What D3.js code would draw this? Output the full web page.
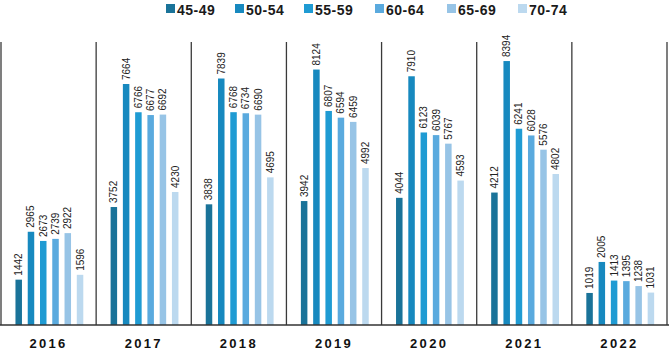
<!DOCTYPE html>
<html>
<head>
<meta charset="utf-8">
<script src="https://cdn.jsdelivr.net/npm/d3@7"></script>
<style>
  html, body { margin: 0; padding: 0; background: #fff; }
  svg { display: block; font-family: "Liberation Sans", Arial, sans-serif; }
</style>
</head>
<body>
<svg id="chart" width="669" height="349"></svg>
<script>
const years = ["2016", "2017", "2018", "2019", "2020", "2021", "2022"];
const ageGroups = ["45-49", "50-54", "55-59", "60-64", "65-69", "70-74"];
const colors = ["#1a7399", "#1789bf", "#1f9bd3", "#5aaade", "#97c4e6", "#bcd9ef"];
const v45_49 = [1442, 3752, 3838, 3942, 4044, 4212, 1019];
const v50_54 = [2965, 7664, 7839, 8124, 7910, 8394, 2005];
const v55_59 = [2673, 6766, 6768, 6807, 6123, 6241, 1413];
const v60_64 = [2739, 6677, 6734, 6594, 6039, 6028, 1395];
const v65_69 = [2922, 6692, 6690, 6459, 5767, 5576, 1238];
const v70_74 = [1596, 4230, 4695, 4992, 4593, 4802, 1031];
const seriesValues = [v45_49, v50_54, v55_59, v60_64, v65_69, v70_74];

const svg = d3.select("#chart");
const baseY = 325, topY = 42;

const x0 = d3.scaleBand().domain(years).range([1, 667]).padding(0);
const bw = x0.bandwidth();
const x1 = d3.scaleBand().domain(ageGroups).range([bw * 0.152, bw * 0.865]).paddingInner(0.47).paddingOuter(0);
const y = d3.scaleLinear().domain([0, 9000]).range([baseY, topY]);
const color = d3.scaleOrdinal().domain(ageGroups).range(colors);

// Legend
const legend = svg.append("g").attr("class", "legend");
const legendX = [166, 235, 304, 375, 447, 518];
ageGroups.forEach((g, i) => {
  const item = legend.append("g").attr("transform", `translate(${legendX[i]},0)`);
  item.append("rect").attr("x", 0).attr("y", 4).attr("width", 9).attr("height", 9).attr("fill", colors[i]);
  item.append("text").attr("x", 11).attr("y", 14.5)
    .attr("font-size", 14).attr("font-weight", "bold").attr("letter-spacing", 0.5)
    .attr("fill", "#1a1a1a").text(g);
});

// Dividers
const dividerX = years.map(yr => x0(yr)).concat([x0(years[years.length - 1]) + bw]);
svg.append("g").selectAll("line").data(dividerX).join("line")
  .attr("x1", d => d).attr("x2", d => d)
  .attr("y1", topY).attr("y2", baseY)
  .attr("stroke", "#3a3a3a").attr("stroke-width", 1.3);

// Bars
const groups = svg.append("g").selectAll("g.year").data(years).join("g")
  .attr("class", "year")
  .attr("transform", d => `translate(${x0(d)},0)`);

groups.each(function(yr, yi) {
  const g = d3.select(this);
  const data = ageGroups.map((ag, ai) => ({ ag, v: seriesValues[ai][yi] }));
  g.selectAll("rect").data(data).join("rect")
    .attr("x", d => x1(d.ag))
    .attr("width", x1.bandwidth())
    .attr("y", d => y(d.v))
    .attr("height", d => baseY - y(d.v))
    .attr("fill", d => color(d.ag));
  g.selectAll("text.val").data(data).join("text")
    .attr("class", "val")
    .attr("transform", d => `translate(${x1(d.ag) + x1.bandwidth() / 2 + 3.5},${y(d.v) - 4}) rotate(-90)`)
    .attr("font-size", 10)
    .attr("fill", "#222")
    .text(d => d.v);
});

// Baseline
svg.append("line").attr("x1", 0).attr("x2", 669).attr("y1", baseY).attr("y2", baseY)
  .attr("stroke", "#333").attr("stroke-width", 1.5);

// Year labels (axis)
const axis = d3.axisBottom(x0).tickSize(0).tickPadding(0);
const ax = svg.append("g").attr("transform", `translate(0,${baseY})`).call(axis);
ax.select(".domain").remove();
ax.selectAll("text")
  .attr("y", 22.5)
  .attr("dy", 0)
  .attr("font-size", 13)
  .attr("font-weight", "bold")
  .attr("letter-spacing", 2.3)
  .attr("fill", "#111")
  .attr("font-family", "'Liberation Sans', Arial, sans-serif");
</script>
</body>
</html>
